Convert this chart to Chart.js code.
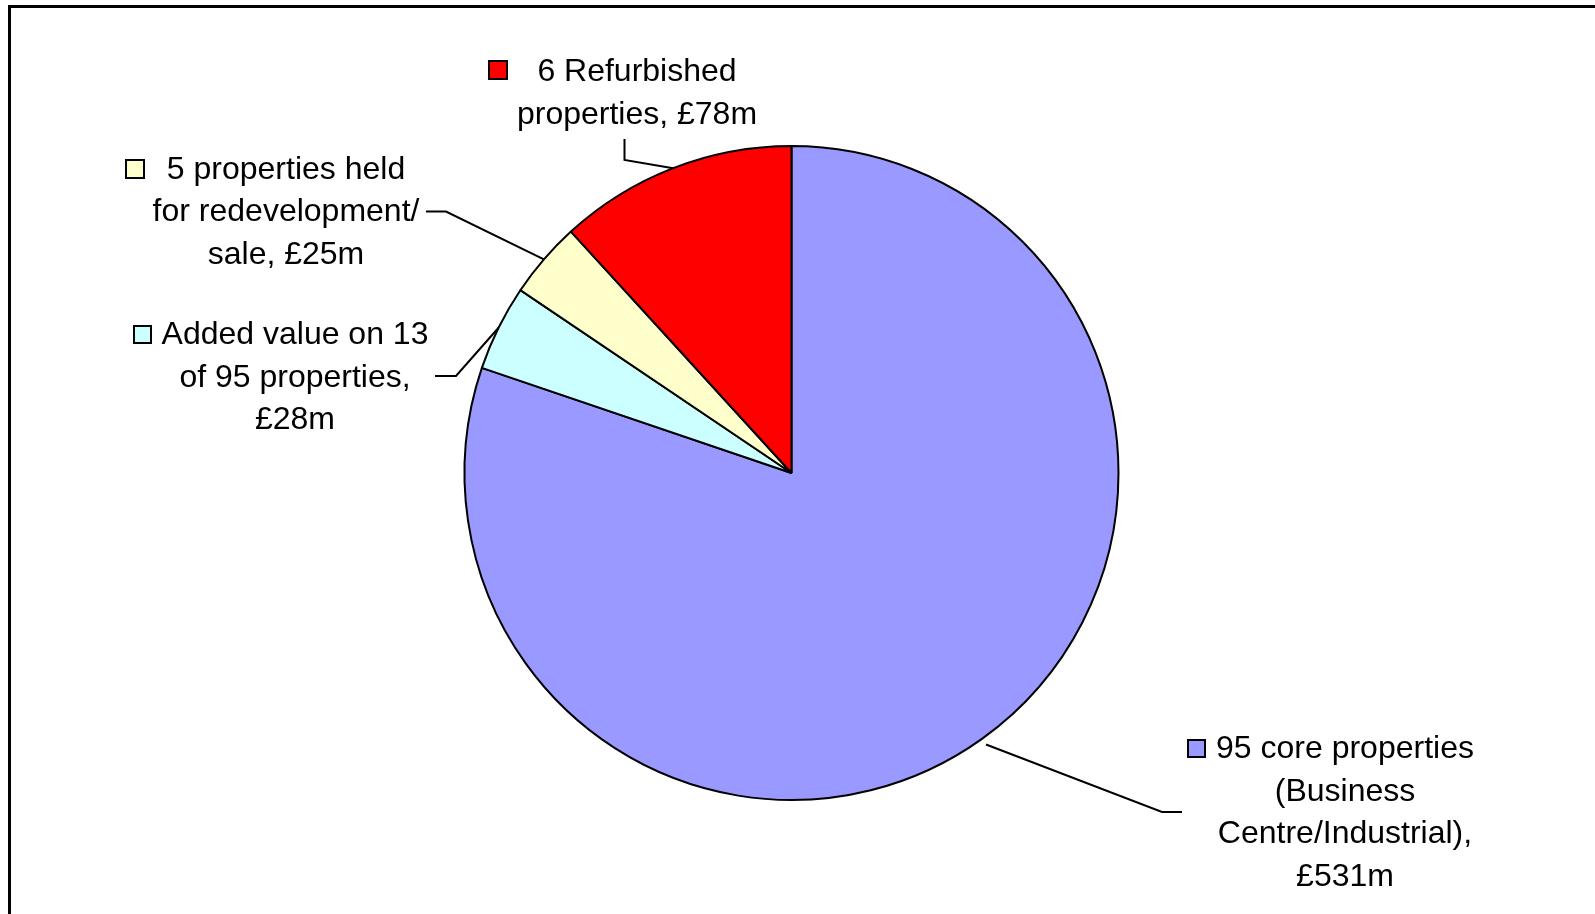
<!DOCTYPE html>
<html>
<head>
<meta charset="utf-8">
<script src="https://cdn.jsdelivr.net/npm/chart.js@4/dist/chart.umd.min.js"></script>
<style>
  html, body { margin: 0; padding: 0; background: #fff; }
  canvas { display: block; }
</style>
</head>
<body>
<canvas id="pieChart" width="1595" height="914"></canvas>
<script>
const categories = [
  '95 core properties (Business Centre/Industrial)',
  'Added value on 13 of 95 properties',
  '5 properties held for redevelopment/ sale',
  '6 Refurbished properties'
];
const values = [531, 28, 25, 78];
const colours = ['#9999FF', '#CCFFFF', '#FFFFCC', '#FF0000'];

// text of each data label, line by line
const labelLines = [
  ['95 core properties', '(Business', 'Centre/Industrial),', '£531m'],
  ['Added value on 13', 'of 95 properties,', '£28m'],
  ['5 properties held', 'for redevelopment/', 'sale, £25m'],
  ['6 Refurbished', 'properties, £78m']
];

// where the labels sit and how the leader lines bend (layout only)
const labelLayout = [
  { cx: 1345, y: 758, key: [1188, 740, 17], gap: 7, bend: [[1162, 812], [1182, 812]] },
  { cx: 295, y: 344, key: [134, 326, 17], gap: 0, bend: [[456, 376], [435, 376]] },
  { cx: 286, y: 178.5, key: [126, 160, 18], gap: 0, bend: [[446, 211.5], [426, 211.5]] },
  { cx: 637, y: 81, key: [489, 61, 18], gap: 0, bend: [[624.5, 160], [624.5, 139]] }
];
const lineGap = 42.5;

const labelsPlugin = {
  id: 'labels',
  afterDraw(chart) {
    const c = chart.ctx;
    c.save();
    // outer frame
    c.strokeStyle = '#000';
    c.lineWidth = 3;
    c.strokeRect(9.5, 6.5, 2000, 2000);

    const arcs = chart.getDatasetMeta(0).data;
    arcs.forEach((arc, i) => {
      const p = arc.getProps(['x', 'y', 'startAngle', 'endAngle', 'outerRadius'], true);
      const lay = labelLayout[i];
      const mid = (p.startAngle + p.endAngle) / 2;
      const r = p.outerRadius + lay.gap;
      c.beginPath();
      c.moveTo(p.x + Math.cos(mid) * r, p.y + Math.sin(mid) * r);
      lay.bend.forEach(pt => c.lineTo(pt[0], pt[1]));
      c.lineWidth = 2;
      c.strokeStyle = '#000';
      c.stroke();

      // legend key
      const k = lay.key;
      c.fillStyle = colours[i];
      c.fillRect(k[0], k[1], k[2], k[2]);
      c.lineWidth = 2;
      c.strokeRect(k[0], k[1], k[2], k[2]);

      c.fillStyle = '#000';
      c.font = '32px "Liberation Sans", Arial, sans-serif';
      c.textAlign = 'center';
      c.textBaseline = 'alphabetic';
      labelLines[i].forEach((t, j) => c.fillText(t, lay.cx, lay.y + j * lineGap));
    });
    c.restore();
  }
};

new Chart(document.getElementById('pieChart'), {
  type: 'pie',
  data: {
    labels: categories,
    datasets: [{
      data: values,
      backgroundColor: colours,
      borderColor: '#000',
      borderWidth: 2
    }]
  },
  options: {
    responsive: false,
    animation: false,
    radius: 327,
    layout: { padding: { left: 0, right: 12, top: 32, bottom: 0 } },
    plugins: {
      legend: { display: false },
      tooltip: { enabled: false }
    }
  },
  plugins: [labelsPlugin]
});
</script>
</body>
</html>
